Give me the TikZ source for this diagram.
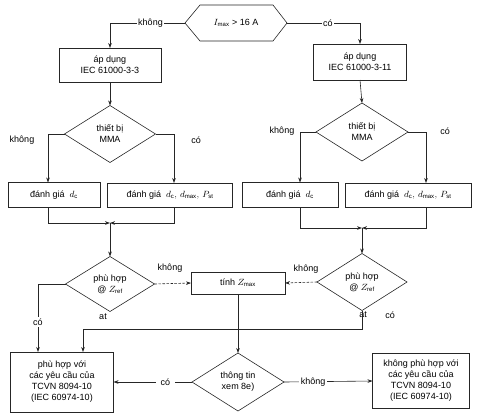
\documentclass[tikz,border=0pt]{standalone}
\usepackage{fontspec}
\setmainfont{Liberation Sans}
\usetikzlibrary{shapes.geometric,arrows.meta}
\begin{document}
\begin{tikzpicture}[x=1pt,y=-1pt,
  every node/.style={font=\fontsize{9}{11}\selectfont, inner sep=0pt, outer sep=0pt, align=center},
  box/.style={draw=black!85, line width=0.6pt, rectangle},
  dia/.style={draw=black!85, line width=0.6pt, diamond, aspect=1.6},
  lbl/.style={fill=white, inner sep=1.5pt},
  conn/.style={draw=black!85, line width=0.6pt},
  arr/.style={conn, -{Stealth[length=5pt,width=3.6pt]}},
  dsh/.style={arr, dashed, dash pattern=on 2.5pt off 1.5pt}]
\useasboundingbox (0,0) rectangle (478,418);
% nodes
\node (hex) [minimum width=102pt, minimum height=36pt] at (236,23) {$I_{\max}$ > 16 A};
\draw[conn] (hex.west) -- ([xshift=15pt]hex.north west) -- ([xshift=-14pt]hex.north east)
  -- (hex.east) -- ([xshift=-14pt]hex.south east) -- ([xshift=15pt]hex.south west) -- cycle;
\node (b1) [box, minimum width=102pt, minimum height=34pt] at (110,65) {áp dụng\\IEC 61000-3-3};
\node (b2) [box, minimum width=93pt, minimum height=36pt] at (360,62) {áp dụng\\IEC 61000-3-11};
\node (d1) [dia, minimum width=91pt, minimum height=57pt] at (110,134) {thiết bị\\MMA};
\node (d2) [dia, minimum width=92pt, minimum height=58pt] at (362,132) {thiết bị\\MMA};
\node (b3) [box, minimum width=92pt, minimum height=25pt] at (54,195) {đánh giá \ $d_{\mathrm{c}}$};
\node (b4) [box, minimum width=125pt, minimum height=24pt] at (170,195) {đánh giá \ $d_{\mathrm{c}},\,d_{\max},\,P_{\mathrm{st}}$};
\node (b5) [box, minimum width=96pt, minimum height=25pt] at (290,195) {đánh giá \ $d_{\mathrm{c}}$};
\node (b6) [box, minimum width=126pt, minimum height=24pt] at (408,195) {đánh giá \ $d_{\mathrm{c}},\,d_{\max},\,P_{\mathrm{st}}$};
\node (d3) [dia, minimum width=89pt, minimum height=55pt] at (110,284) {phù hợp\\@ $Z_{\mathrm{ref}}$};
\node (d4) [dia, minimum width=90pt, minimum height=57pt] at (362,282) {phù hợp\\@ $Z_{\mathrm{ref}}$};
\node (tz) [box, minimum width=94pt, minimum height=22pt] at (238,283) {tính $Z_{\max}$};
\node (d5) [dia, minimum width=92pt, minimum height=58pt] at (238,382) {thông tin\\xem 8e)};
\node (b7) [box, minimum width=103pt, minimum height=60pt] at (62,382) {phù hợp với\\các yêu cầu của\\TCVN 8094-10\\(IEC 60974-10)};
\node (b8) [box, minimum width=97pt, minimum height=55pt] at (421,381) {không phù hợp với\\các yêu cầu của\\TCVN 8094-10\\(IEC 60974-10)};
\coordinate (j1) at (110,223);
\coordinate (j2) at (362,228);
\coordinate (atb) at (83,329);
% connectors
\draw[arr] (hex.west) -| node[lbl, pos=0.23] (l1) {không} (b1.north);
\draw[arr] (hex.east) -| node[lbl, pos=0.28] (l2) {có} (b2.north);
\draw[arr] (b1.south) -- (d1.north);
\draw[arr] (b2.south) -- (d2.north);
\draw[arr] (d1.west) -| ([xshift=-6pt]b3.north);
\draw[arr] (d1.east) -| ([xshift=4pt]b4.north);
\draw[arr] (d2.west) -| ([xshift=10pt]b5.north);
\draw[arr] (d2.east) -| ([xshift=18pt]b6.north);
\node (l3) at (22,140) {không};
\node (l4) at (196,140) {có};
\node (l5) at (282,131) {không};
\node (l6) at (445,131) {có};
\draw[arr] ([xshift=-6pt]b3.south) |- (j1);
\draw[arr] ([xshift=4pt]b4.south) |- (j1);
\draw[arr] (j1) -- (d3.north);
\draw[arr] ([xshift=10pt]b5.south) |- (j2);
\draw[arr] ([xshift=18pt]b6.south) |- (j2);
\draw[arr] (j2) -- (d4.north);
\draw[dsh] (d3.east) -- (tz.west);
\draw[dsh] (d4.west) -- (tz.east);
\node (l7) at (170,268) {không};
\node (l8) at (306,269) {không};
\draw[arr] (d3.west) -| node[lbl, pos=0.78] (l9) {có} ([xshift=-24pt]b7.north);
\node (l10) at (103,317) {at};
\node (l11) at (363,315) {at};
\node (l12) at (390,315) {có};
\draw[arr] (d4.south) |- (atb) -- ([xshift=21pt]b7.north);
\draw[arr] (tz.south) -- (d5.north);
\draw[arr] (d5.west) -- node[lbl, pos=0.34, inner xsep=5pt] (l13) {có} (b7.east);
\draw[arr] (d5.east) -- node[lbl, pos=0.33] (l14) {không} (b8.west);
\end{tikzpicture}
\end{document}
